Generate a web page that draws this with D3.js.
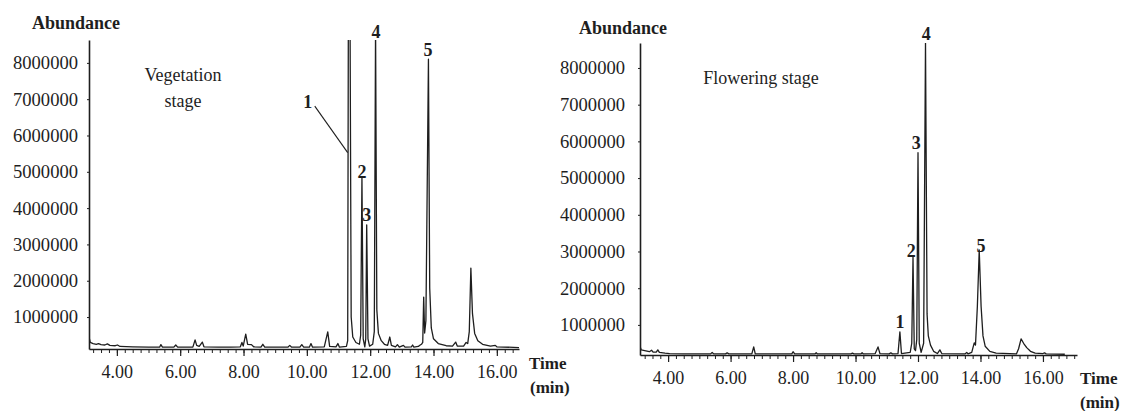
<!DOCTYPE html>
<html>
<head>
<meta charset="utf-8">
<script src="https://cdn.jsdelivr.net/npm/d3@7"></script>
<style>
  html, body { margin: 0; padding: 0; background: #fff; }
  svg { display: block; font-family: "Liberation Serif", "Times New Roman", serif; }
</style>
</head>
<body>
<svg id="chart" width="1121" height="411"></svg>
<script>
// ---------- DATA ----------
const xTickValues = [4, 6, 8, 10, 12, 14, 16];
const yTickValues = [1000000, 2000000, 3000000, 4000000, 5000000, 6000000, 7000000, 8000000];

// Vegetation stage chromatogram (time in min, abundance)
const vegTime = [3.12,3.16,3.25,3.35,3.42,3.50,3.62,3.70,3.78,3.95,4.02,4.10,4.50,5.00,5.35,5.39,5.44,5.80,5.86,5.92,
  6.40,6.47,6.52,6.60,6.70,6.75,7.20,7.60,7.90,7.95,7.99,8.07,8.13,8.25,8.32,8.55,8.61,8.67,9.10,9.40,9.46,9.52,
  9.78,9.84,9.90,10.08,10.13,10.18,10.55,10.66,10.72,10.92,10.98,11.03,11.25,11.29,11.31,11.365,11.40,11.45,11.55,
  11.66,11.70,11.74,11.78,11.83,11.86,11.89,11.93,11.98,12.08,12.13,12.17,12.21,12.26,12.35,12.45,12.55,12.62,12.67,
  12.80,12.86,12.92,13.05,13.10,13.30,13.34,13.38,13.52,13.58,13.62,13.66,13.69,13.72,13.76,13.84,13.88,13.93,14.00,
  14.15,14.40,14.60,14.70,14.75,14.95,15.03,15.08,15.13,15.18,15.23,15.30,15.40,15.55,15.80,15.95,16.00,16.70];
const vegAbundance = [450000,300000,270000,250000,270000,240000,230000,260000,220000,210000,230000,190000,180000,170000,170000,240000,170000,170000,230000,170000,
  170000,370000,220000,190000,310000,180000,170000,170000,180000,300000,200000,530000,250000,240000,180000,170000,250000,170000,170000,170000,220000,170000,
  170000,240000,170000,170000,270000,170000,180000,590000,190000,180000,270000,170000,190000,350000,9000000,9000000,1000000,450000,300000,
  250000,500000,4830000,400000,180000,400000,3540000,400000,200000,250000,600000,9000000,1200000,550000,350000,250000,220000,450000,220000,
  180000,240000,170000,220000,170000,180000,230000,170000,190000,230000,250000,300000,1550000,560000,900000,8100000,1800000,700000,400000,
  270000,210000,200000,310000,200000,200000,300000,270000,600000,2350000,1100000,550000,350000,250000,200000,220000,180000,160000];

// Flowering stage chromatogram
const flowTime = [3.10,3.14,3.25,3.40,3.47,3.52,3.62,3.67,3.72,3.90,4.05,4.50,5.36,5.41,5.46,5.84,5.89,5.94,6.68,6.74,6.79,
  7.96,8.00,8.05,8.70,8.74,8.78,9.85,9.90,9.95,10.17,10.21,10.25,10.63,10.72,10.78,11.08,11.13,11.18,11.36,11.42,11.47,
  11.75,11.80,11.84,11.88,11.92,11.96,12.00,12.04,12.10,12.18,12.24,12.29,12.33,12.40,12.50,12.62,12.70,12.76,13.50,
  13.56,13.60,13.72,13.80,13.84,13.90,13.96,14.02,14.08,14.15,14.30,14.50,15.15,15.22,15.30,15.38,15.48,15.60,15.75,
  16.00,16.05,16.10,16.70];
const flowAbundance = [420000,320000,300000,270000,310000,260000,260000,320000,250000,230000,220000,210000,210000,250000,210000,210000,240000,210000,210000,400000,210000,
  210000,270000,210000,210000,240000,210000,210000,230000,210000,210000,240000,210000,220000,400000,220000,210000,240000,210000,220000,810000,220000,
  250000,500000,2850000,350000,300000,600000,5690000,500000,250000,500000,8710000,1300000,700000,450000,280000,220000,320000,220000,210000,
  250000,210000,250000,510000,450000,1500000,3040000,1500000,700000,420000,280000,230000,210000,350000,620000,500000,380000,280000,230000,
  220000,240000,210000,200000];

// Peak labels: [label, time, abundance at label centre]
const vegPeakLabels = [["2",11.74,4990000],["3",11.89,3810000],["4",12.18,8850000],["5",13.83,8360000],["1",10.03,6920000]];
const vegLeader = [[10.25,6810000],[11.29,5530000]];
const flowPeakLabels = [["1",11.42,1080000],["2",11.78,3020000],["3",11.94,5960000],["4",12.26,8930000],["5",14.02,3150000]];

// ---------- DRAW ----------
const svg = d3.select("#chart");
const ink = "#1e1e1e";

function drawPanel(cfg) {
  const x = d3.scaleLinear().domain(cfg.xDomain).range(cfg.xRange);
  const y = d3.scaleLinear().domain(cfg.yDomain).range(cfg.yRange);
  const g = svg.append("g");

  const clipId = "clip" + cfg.id;
  svg.append("defs").append("clipPath").attr("id", clipId)
    .append("rect").attr("x", cfg.xRange[0]).attr("y", cfg.yRange[1])
    .attr("width", cfg.xRange[1] - cfg.xRange[0] + 2).attr("height", cfg.yRange[0] - cfg.yRange[1]);

  // minor x ticks
  const minor = d3.range(3.25, cfg.xDomain[1], 0.25);
  g.append("g").attr("transform", `translate(0,${cfg.yRange[0]})`)
    .call(d3.axisBottom(x).tickValues(minor).tickSize(4).tickFormat(""))
    .call(a => a.select(".domain").remove())
    .call(a => a.selectAll("line").attr("stroke", ink).attr("stroke-width", 1));

  // major x axis
  const xa = g.append("g").attr("transform", `translate(0,${cfg.yRange[0]})`)
    .call(d3.axisBottom(x).tickValues(xTickValues).tickSize(7).tickPadding(9).tickFormat(d3.format(".2f")).tickSizeOuter(0));
  xa.select(".domain").attr("stroke", ink).attr("stroke-width", 1.6);
  xa.selectAll("line").attr("stroke", ink).attr("stroke-width", 1.2);
  xa.selectAll("text").attr("font-size", 18).attr("fill", ink).attr("font-family", "Liberation Serif");

  // y axis
  const ya = g.append("g").attr("transform", `translate(${cfg.xRange[0]},0)`)
    .call(d3.axisLeft(y).tickValues(yTickValues).tickSize(2).tickPadding(cfg.yPad).tickFormat(d3.format("d")).tickSizeOuter(0));
  ya.select(".domain").attr("stroke", ink).attr("stroke-width", 1.6);
  ya.selectAll("line").attr("stroke", ink).attr("stroke-width", 1);
  ya.selectAll("text").attr("font-size", 18.5).attr("fill", ink).attr("font-family", "Liberation Serif")
    .attr("textLength", 65).attr("lengthAdjust", "spacingAndGlyphs");

  // chromatogram
  const pts = cfg.time.map((t, i) => [t, cfg.abund[i]]);
  g.append("path").datum(pts)
    .attr("clip-path", `url(#${clipId})`)
    .attr("fill", "none").attr("stroke", ink).attr("stroke-width", 1.3).attr("stroke-linejoin", "round")
    .attr("d", d3.line().x(d => x(d[0])).y(d => y(d[1])));

  // peak labels
  g.selectAll("text.pk").data(cfg.labels).enter().append("text")
    .attr("class", "pk")
    .attr("x", d => x(d[1])).attr("y", d => y(d[2]) + 6)
    .attr("text-anchor", "middle").attr("font-weight", "bold").attr("font-size", 18).attr("fill", ink)
    .text(d => d[0]);

  if (cfg.leader) {
    g.append("path").datum(cfg.leader)
      .attr("fill", "none").attr("stroke", ink).attr("stroke-width", 1.1)
      .attr("d", d3.line().x(d => x(d[0])).y(d => y(d[1])));
  }

  // titles
  g.append("text").attr("x", cfg.abX).attr("y", cfg.abY).attr("text-anchor", "middle")
    .attr("font-weight", "bold").attr("font-size", 18).attr("fill", ink).text("Abundance");
  g.append("text").attr("x", cfg.timeX).attr("y", cfg.timeY)
    .attr("font-weight", "bold").attr("font-size", 17).attr("fill", ink).text("Time");
  g.append("text").attr("x", cfg.minX).attr("y", cfg.timeY + 24)
    .attr("font-weight", "bold").attr("font-size", 17).attr("fill", ink).text("(min)");
  cfg.stage.forEach((s, i) => {
    g.append("text").attr("x", cfg.stageX).attr("y", cfg.stageY + i * 26).attr("text-anchor", "middle")
      .attr("font-size", 18).attr("fill", ink).text(s);
  });
}

drawPanel({
  id: "veg", time: vegTime, abund: vegAbundance, labels: vegPeakLabels, leader: vegLeader,
  xDomain: [3.12, 16.70], xRange: [89, 519], yDomain: [120000, 8630000], yRange: [349, 40], yPad: 9,
  abX: 76, abY: 29, timeX: 529, timeY: 369, minX: 530, stage: ["Vegetation", "stage"], stageX: 183, stageY: 81
});
drawPanel({
  id: "flow", time: flowTime, abund: flowAbundance, labels: flowPeakLabels, leader: null,
  xDomain: [3.10, 17.09], xRange: [640, 1077], yDomain: [180000, 8680000], yRange: [355, 43], yPad: 13,
  abX: 623, abY: 34, timeX: 1080, timeY: 384, minX: 1080, stage: ["Flowering stage"], stageX: 761, stageY: 84
});
</script>
</body>
</html>
